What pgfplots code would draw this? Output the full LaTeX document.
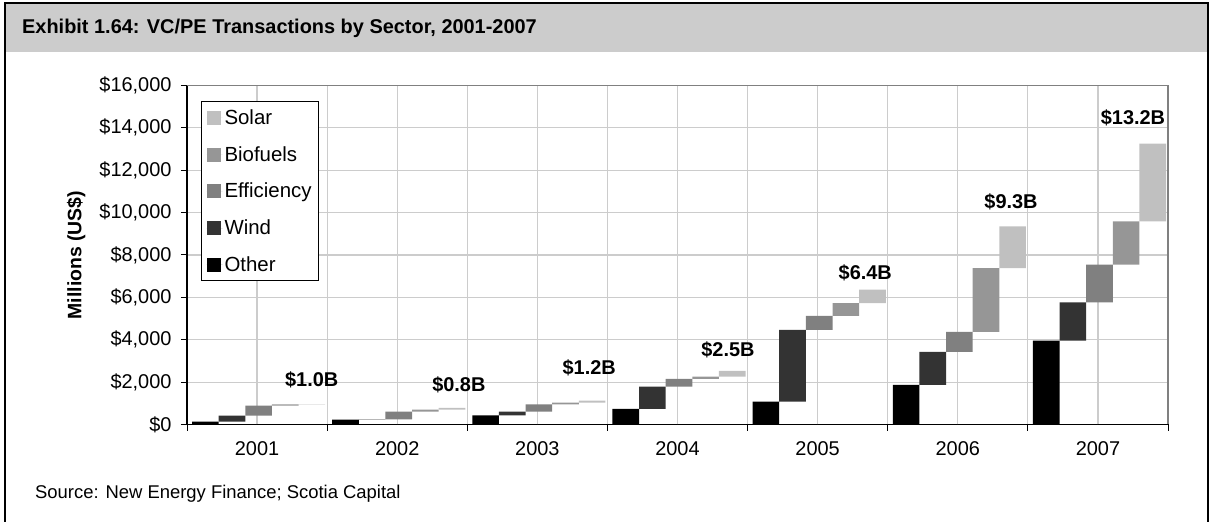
\documentclass[border=0pt]{standalone}
\usepackage{pgfplots}
\pgfplotsset{compat=1.18}
\usepackage{pgfplotstable}
\usepackage{fontspec}
\setmainfont{Liberation Sans}
\definecolor{cOther}{HTML}{000000}
\definecolor{cWind}{HTML}{333333}
\definecolor{cEff}{HTML}{808080}
\definecolor{cBio}{HTML}{969696}
\definecolor{cSolar}{HTML}{C0C0C0}
\definecolor{titlebar}{HTML}{CCCCCC}
\definecolor{gridc}{HTML}{CCCCCC}

% x = bar position, base = start of floating bar, then increments by sector
\pgfplotstableread{
x     base  other wind  eff   bio   solar
0.131 0     130   0     0     0     0
0.321 130   0     290   0     0     0
0.511 420   0     0     470   0     0
0.701 890   0     0     0     60    0
0.891 950   0     0     0     0     15
1.131 0     230   0     0     0     0
1.321 230   0     8     0     0     0
1.511 238   0     0     372   0     0
1.701 610   0     0     0     95    0
1.891 705   0     0     0     0     85
2.131 0     425   0     0     0     0
2.321 425   0     185   0     0     0
2.511 610   0     0     340   0     0
2.701 950   0     0     0     85    0
2.891 1035  0     0     0     0     95
3.131 0     733   0     0     0     0
3.321 733   0     1054  0     0     0
3.511 1787  0     0     364   0     0
3.701 2151  0     0     0     109   0
3.891 2260  0     0     0     0     270
4.131 0     1078  0     0     0     0
4.321 1078  0     3392  0     0     0
4.511 4470  0     0     660   0     0
4.701 5130  0     0     0     600   0
4.891 5730  0     0     0     0     630
5.131 0     1868  0     0     0     0
5.321 1868  0     1560  0     0     0
5.511 3428  0     0     946   0     0
5.701 4374  0     0     0     3011  0
5.891 7385  0     0     0     0     1967
6.131 0     3962  0     0     0     0
6.321 3962  0     1797  0     0     0
6.511 5759  0     0     1782  0     0
6.701 7541  0     0     0     2048  0
6.891 9589  0     0     0     0     3673
}\bars

\begin{document}
\begin{tikzpicture}
\path[use as bounding box] (0,0) rectangle (1214bp,522bp);
\fill[titlebar] (5bp,470bp) rectangle (1208bp,519bp);
\draw[line width=2.5bp] (5bp,0bp) -- (5bp,519bp) -- (1208bp,519bp) -- (1208bp,0bp);
\node[anchor=west, inner sep=0pt, font=\fontsize{20}{22}\bfseries\selectfont] at (22bp,494bp) {Exhibit 1.64: VC/PE Transactions by Sector, 2001-2007};
\node[anchor=west, inner sep=0pt, font=\fontsize{18.5}{22}\selectfont] at (35bp,28bp) {Source: New Energy Finance; Scotia Capital};
\begin{axis}[
  at={(187bp,97.5bp)}, anchor=south west,
  scale only axis, width=981bp, height=339bp,
  xmin=0, xmax=7, ymin=0, ymax=16000,
  ybar stacked, bar width=0.19,
  axis x line*=bottom, axis y line*=left,
  axis line style={line width=1.3bp, black},
  every tick/.style={black, line width=1bp},
  tick align=outside, major tick length=6bp,
  xtick={0,1,...,7}, xticklabels={},
  extra x ticks={0.5,1.5,...,6.5},
  extra x tick labels={2001,2002,2003,2004,2005,2006,2007},
  extra x tick style={grid=major, major tick length=0pt},
  xticklabel style={yshift=-14bp},
  yticklabel style={xshift=-6bp},
  ytick={0,2000,...,16000},
  scaled y ticks=false,
  yticklabel={\$\pgfmathprintnumber{\tick}},
  /pgf/number format/.cd, fixed, 1000 sep={,}, assume math mode=true, /pgfplots/.cd,
  tick label style={font=\fontsize{20}{22}\selectfont},
  xmajorgrids, ymajorgrids,
  major grid style={draw=gridc, line width=1.2bp},
  ylabel={Millions (US\$)},
  every axis y label/.style={at={(axis description cs:-0.113,0.5)}, rotate=90, anchor=center},
  ylabel style={font=\fontsize{19.5}{22}\bfseries\selectfont},
  legend style={at={(0.0143,0.954)}, anchor=north west, draw=black, line width=1bp,
    inner xsep=5bp, inner ysep=6bp, row sep=16.5bp, font=\fontsize{20.5}{22}\selectfont},
  legend cell align=left, reverse legend,
  legend image code/.code={\fill[#1] (0bp,-7bp) rectangle (14bp,7bp); \path (0bp,0bp) -- (16bp,0bp);},
  after end axis/.code={\draw[gray, line width=1.2bp] (rel axis cs:0,1) -- (rel axis cs:1,1) -- (rel axis cs:1,0);},
]
\addplot[draw=none, fill=none, forget plot] table[x=x, y=base] {\bars};
\addplot[draw=none, fill=cOther] table[x=x, y=other] {\bars};
\addplot[draw=none, fill=cWind] table[x=x, y=wind] {\bars};
\addplot[draw=none, fill=cEff] table[x=x, y=eff] {\bars};
\addplot[draw=none, fill=cBio] table[x=x, y=bio] {\bars};
\addplot[draw=none, fill=cSolar] table[x=x, y=solar] {\bars};
\legend{Other, Wind, Efficiency, Biofuels, Solar}
\end{axis}
\begin{axis}[
  at={(187bp,97.5bp)}, anchor=south west,
  scale only axis, width=981bp, height=339bp,
  xmin=0, xmax=7, ymin=0, ymax=16000, hide axis]
\addplot[draw=none, mark=none,
  nodes near coords, point meta=explicit symbolic,
  every node near coord/.style={anchor=center, text=black, font=\fontsize{20}{22}\bfseries\selectfont}]
  coordinates {(0.89,2100) [\$1.0B] (1.94,1870) [\$0.8B] (2.87,2690) [\$1.2B]
    (3.86,3520) [\$2.5B] (4.84,7140) [\$6.4B] (5.88,10500) [\$9.3B] (6.75,14470) [\$13.2B]};
\end{axis}
\end{tikzpicture}
\end{document}
